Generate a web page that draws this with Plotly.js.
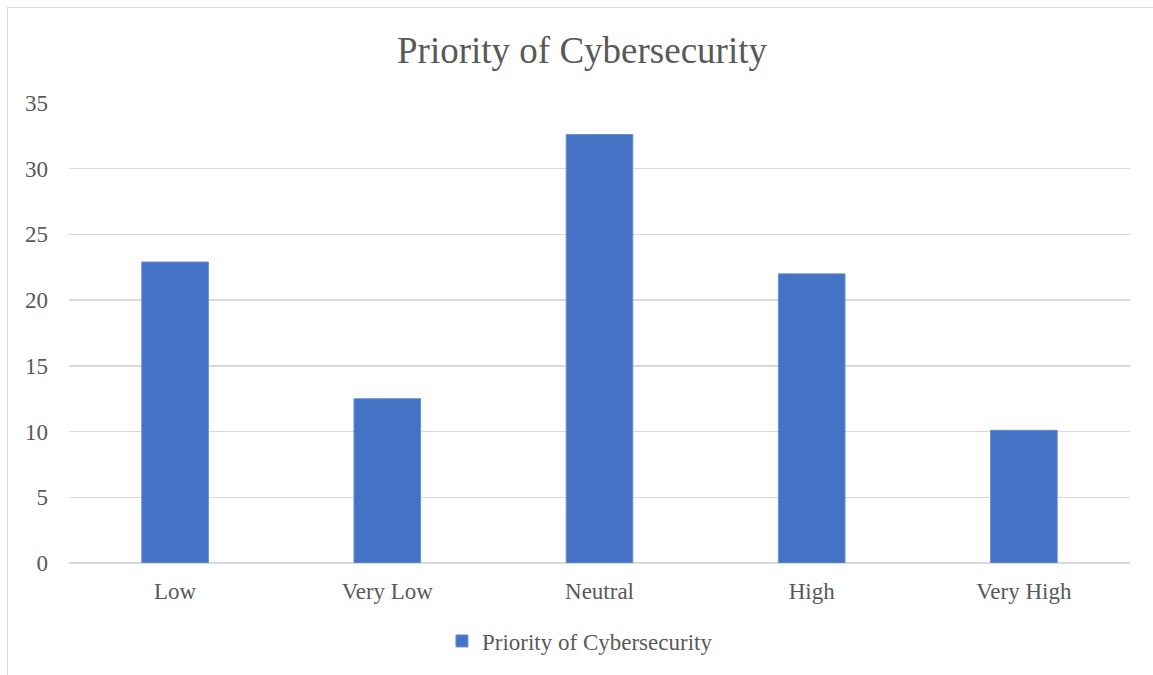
<!DOCTYPE html>
<html>
<head>
<meta charset="utf-8">
<script src="https://cdn.plot.ly/plotly-3.0.1.min.js"></script>
<style>
  html, body { margin: 0; padding: 0; background: #ffffff; }
  #wrap { position: relative; width: 1153px; height: 675px; overflow: hidden; }
  #chart { position: absolute; left: 0; top: 0; width: 1153px; height: 675px; }
  #frame {
    position: absolute; left: 7px; top: 7px; right: -10px; bottom: -10px;
    border-top: 1.5px solid #d9d9d9; border-left: 1.5px solid #d9d9d9;
    pointer-events: none;
  }
</style>
</head>
<body>
<div id="wrap">
  <div id="chart"></div>
  <div id="frame"></div>
</div>
<script>
// Survey responses: how highly cybersecurity is prioritised
const categories = ["Low", "Very Low", "Neutral", "High", "Very High"];
const priorityValues = [22.9, 12.5, 32.6, 22.0, 10.1];
const seriesName = "Priority of Cybersecurity";
const yTicks = [0, 5, 10, 15, 20, 25, 30, 35];

const serif = "'Liberation Serif', 'Times New Roman', serif";
const textGrey = "#595959";
const gridGrey = "#d9d9d9";

const trace = {
  type: "bar",
  x: categories,
  y: priorityValues,
  name: seriesName,
  marker: { color: "#4472c4", line: { color: "#6d90d2", width: 1 } },
  hoverinfo: "x+y"
};

const layout = {
  width: 1153,
  height: 675,
  paper_bgcolor: "#ffffff",
  plot_bgcolor: "#ffffff",
  margin: { l: 69, r: 23, t: 103, b: 112 },
  font: { family: serif, color: textGrey, size: 23 },
  title: {
    text: "Priority of Cybersecurity",
    font: { family: serif, size: 37, color: textGrey },
    x: 582 / 1153, xanchor: "center", xref: "container",
    y: 1 - 50 / 675, yanchor: "middle", yref: "container"
  },
  bargap: 0.686,
  showlegend: true,
  legend: {
    orientation: "h",
    x: 0.503, xanchor: "center", xref: "container",
    y: 1 - 641 / 675, yanchor: "middle", yref: "container",
    font: { family: serif, size: 23, color: textGrey },
    bgcolor: "rgba(0,0,0,0)"
  },
  xaxis: {
    type: "category",
    showgrid: false,
    showline: false,
    ticks: "",
    tickfont: { family: serif, size: 23, color: textGrey },
    ticklabelstandoff: 12,
    fixedrange: true
  },
  yaxis: {
    range: [0, 35],
    tickvals: yTicks,
    showgrid: true,
    gridcolor: gridGrey,
    gridwidth: 1.5,
    zeroline: true,
    zerolinecolor: gridGrey,
    zerolinewidth: 1.5,
    showline: false,
    ticks: "",
    tickfont: { family: serif, size: 23, color: textGrey },
    ticklabelstandoff: 20,
    fixedrange: true
  }
};

Plotly.newPlot("chart", [trace], layout, { displayModeBar: false, staticPlot: true });
</script>
</body>
</html>
